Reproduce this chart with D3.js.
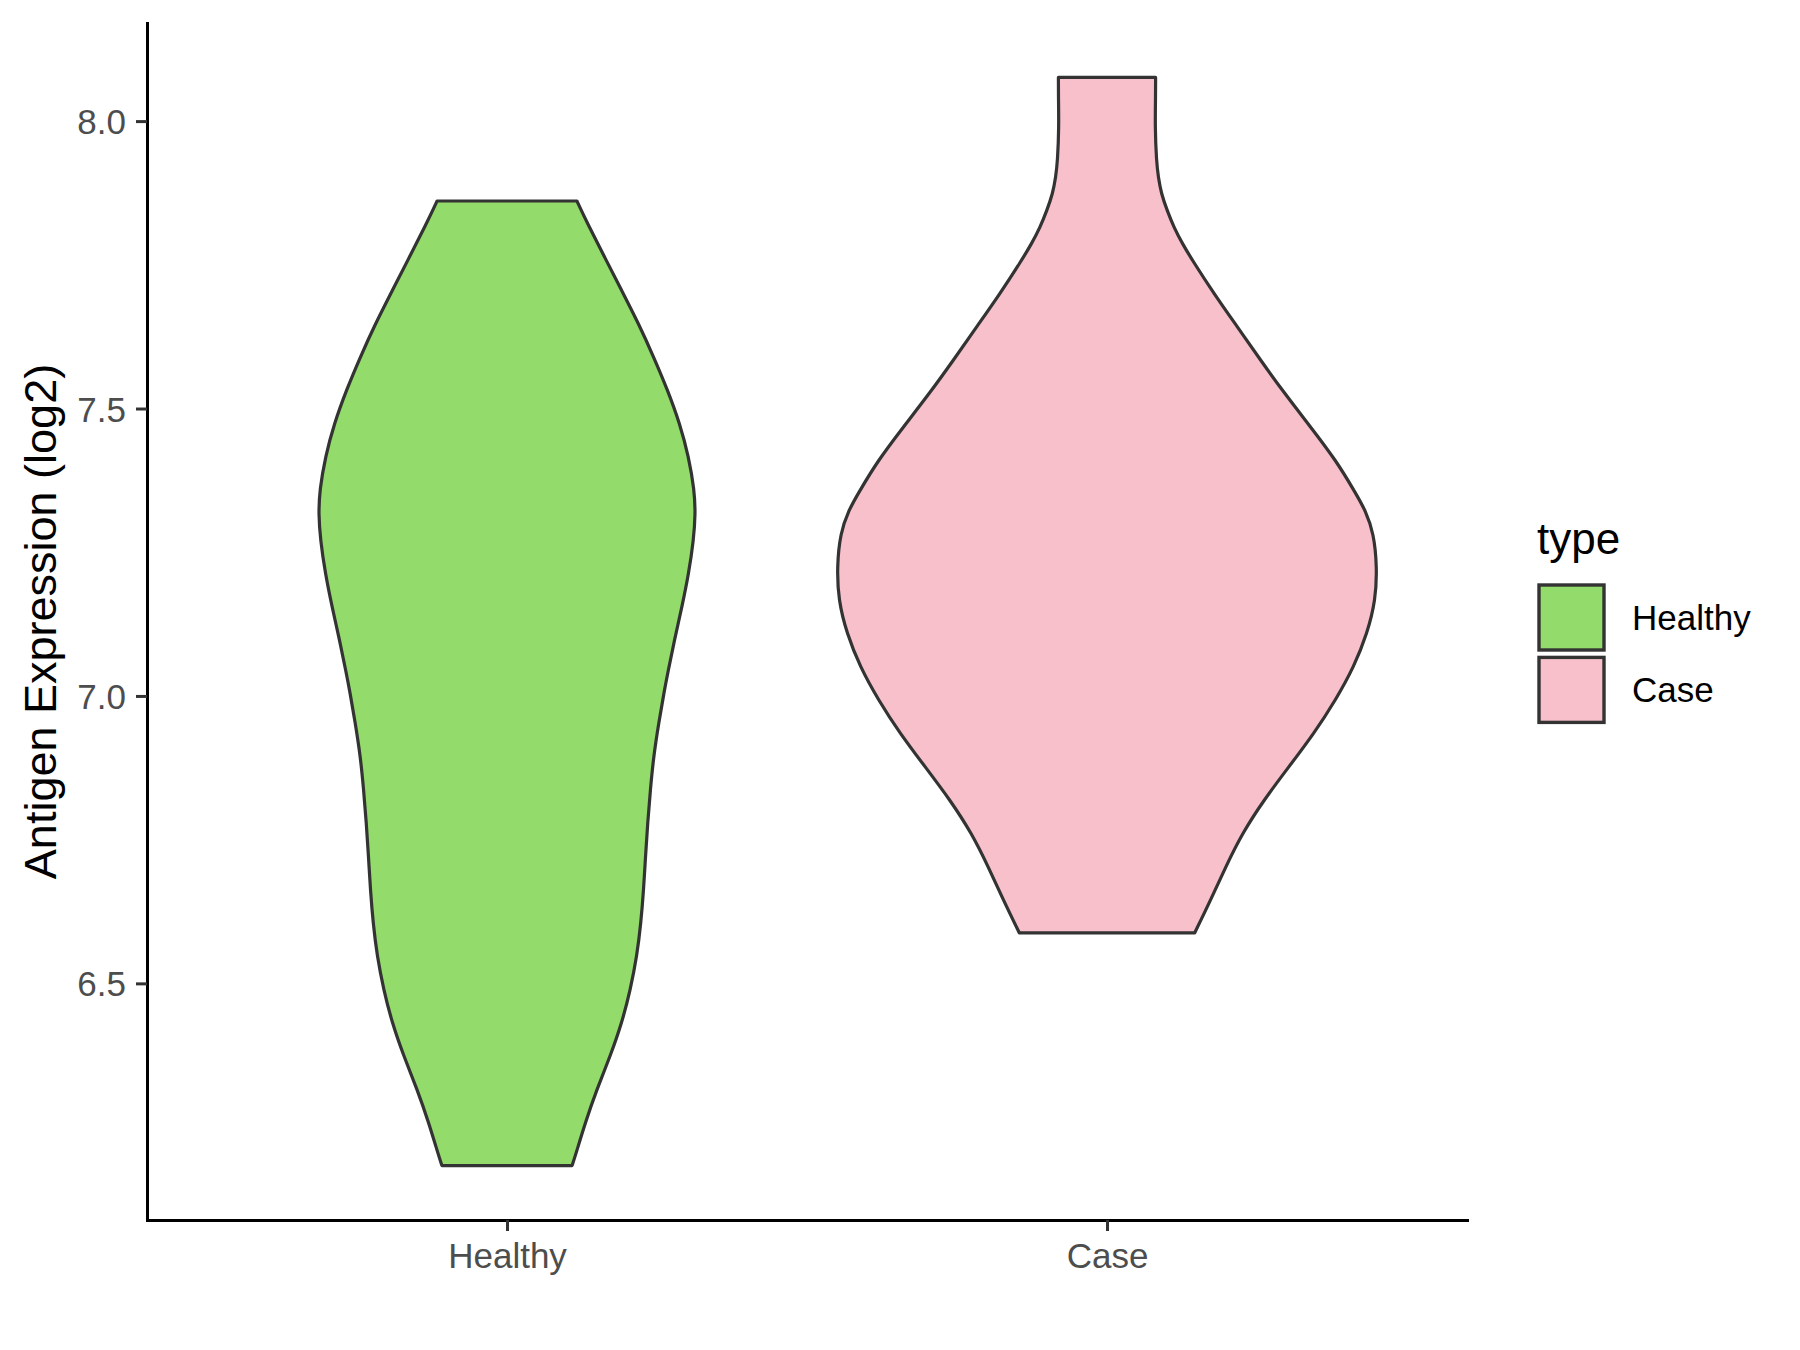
<!DOCTYPE html>
<html>
<head>
<meta charset="utf-8">
<script src="https://cdn.jsdelivr.net/npm/d3@7"></script>
<style>
  html, body { margin: 0; padding: 0; background: #ffffff; }
  svg { display: block; }
  text { font-family: "Liberation Sans", Arial, Helvetica, sans-serif; }
</style>
</head>
<body>
<svg id="chart" width="1800" height="1350"></svg>
<script>
// ---------- data ----------
const categories = ["Healthy", "Case"];
const fillColors = ["#93DB6A", "#F7C0CB"];
const yTicks = [6.5, 7.0, 7.5, 8.0];
const yTitle = "Antigen Expression (log2)";
const legendTitle = "type";

// violin outlines: expression value and relative violin width (1 = widest)
const healthyValues = [7.861, 7.821, 7.763, 7.705, 7.648, 7.590, 7.532, 7.474, 7.416, 7.358,
  7.317, 7.271, 7.213, 7.155, 7.097, 7.039, 7.010, 6.953, 6.895, 6.837, 6.779, 6.721, 6.663,
  6.605, 6.547, 6.489, 6.432, 6.374, 6.316, 6.258, 6.200, 6.183];
const healthyWidths = [0.259, 0.299, 0.362, 0.425, 0.487, 0.543, 0.595, 0.640, 0.673, 0.694,
  0.698, 0.691, 0.673, 0.648, 0.620, 0.595, 0.583, 0.562, 0.543, 0.531, 0.521, 0.513, 0.506,
  0.496, 0.481, 0.457, 0.426, 0.383, 0.333, 0.290, 0.253, 0.241];

const caseValues = [8.076, 8.047, 7.989, 7.931, 7.902, 7.874, 7.844, 7.815, 7.787, 7.758,
  7.700, 7.642, 7.584, 7.526, 7.468, 7.410, 7.352, 7.323, 7.283, 7.225, 7.167, 7.109, 7.051,
  6.993, 6.935, 6.877, 6.819, 6.761, 6.703, 6.645, 6.588];
const caseWidths = [0.180, 0.180, 0.178, 0.183, 0.190, 0.201, 0.223, 0.248, 0.279, 0.316,
  0.396, 0.483, 0.569, 0.658, 0.754, 0.848, 0.922, 0.957, 0.988, 1.000, 0.995, 0.964, 0.915,
  0.847, 0.767, 0.674, 0.581, 0.501, 0.440, 0.384, 0.325];

const violins = [
  { cat: "Healthy", values: healthyValues, widths: healthyWidths, fill: fillColors[0] },
  { cat: "Case", values: caseValues, widths: caseWidths, fill: fillColors[1] }
];

// ---------- layout ----------
const panel = { left: 147, right: 1467, top: 23, bottom: 1220 };
const svg = d3.select("#chart");
svg.append("rect").attr("width", 1800).attr("height", 1350).attr("fill", "#ffffff");

const allVals = healthyValues.concat(caseValues);
const vmin = d3.min(allVals), vmax = d3.max(allVals);
const pad = (vmax - vmin) * 0.05;

const y = d3.scaleLinear().domain([vmin - pad, vmax + pad]).range([panel.bottom, panel.top]);
const x = d3.scalePoint().domain(categories).range([panel.left, panel.right]).padding(0.6);
const step = x.step();
const halfMax = 0.45 * step; // ggplot width 0.9

// ---------- violins ----------
violins.forEach(v => {
  const cx = x(v.cat);
  const pts = v.values.map((val, i) => ({ val: val, w: v.widths[i] }));
  const area = d3.area()
    .y(d => y(d.val))
    .x0(d => cx - d.w * halfMax)
    .x1(d => cx + d.w * halfMax)
    .curve(d3.curveBasis);
  svg.append("path")
    .attr("d", area(pts))
    .attr("fill", v.fill)
    .attr("stroke", "#333333")
    .attr("stroke-width", 3.2)
    .attr("stroke-linejoin", "round");
});

// ---------- axes ----------
const yAxis = d3.axisLeft(y).tickValues(yTicks).tickFormat(d3.format(".1f"))
  .tickSize(11).tickSizeOuter(0).tickPadding(10);
const gy = svg.append("g").attr("transform", `translate(${panel.left},0)`).call(yAxis);
gy.select(".domain").attr("stroke", "#000000").attr("stroke-width", 3).attr("stroke-linecap", "square");
gy.selectAll(".tick line").attr("stroke", "#333333").attr("stroke-width", 3);
gy.selectAll(".tick text").attr("fill", "#4D4D4D").attr("font-size", 35)
  .attr("dy", "0.36em").style("font-family", "'Liberation Sans', Arial, sans-serif");

const xAxis = d3.axisBottom(x).tickSize(11).tickSizeOuter(0).tickPadding(12);
const gx = svg.append("g").attr("transform", `translate(0,${panel.bottom})`).call(xAxis);
gx.select(".domain").attr("stroke", "#000000").attr("stroke-width", 3).attr("stroke-linecap", "square");
gx.selectAll(".tick line").attr("stroke", "#333333").attr("stroke-width", 3);
gx.selectAll(".tick text").attr("fill", "#4D4D4D").attr("font-size", 35)
  .attr("dy", "0.71em").style("font-family", "'Liberation Sans', Arial, sans-serif");

// y title
svg.append("text")
  .attr("transform", `translate(56,${(panel.top + panel.bottom) / 2}) rotate(-90)`)
  .attr("text-anchor", "middle")
  .attr("font-size", 45)
  .attr("fill", "#000000")
  .text(yTitle);

// ---------- legend ----------
const lg = svg.append("g");
lg.append("text").attr("x", 1537).attr("y", 554).attr("font-size", 44).attr("fill", "#000000").text(legendTitle);
categories.forEach((c, i) => {
  const ky = 585 + i * 72.4;
  lg.append("rect")
    .attr("x", 1539).attr("y", ky).attr("width", 65).attr("height", 65)
    .attr("fill", fillColors[i]).attr("stroke", "#333333").attr("stroke-width", 3.4);
  lg.append("text")
    .attr("x", 1632).attr("y", ky + 32.5 + 12.5)
    .attr("font-size", 35).attr("fill", "#000000").text(c);
});
</script>
</body>
</html>
